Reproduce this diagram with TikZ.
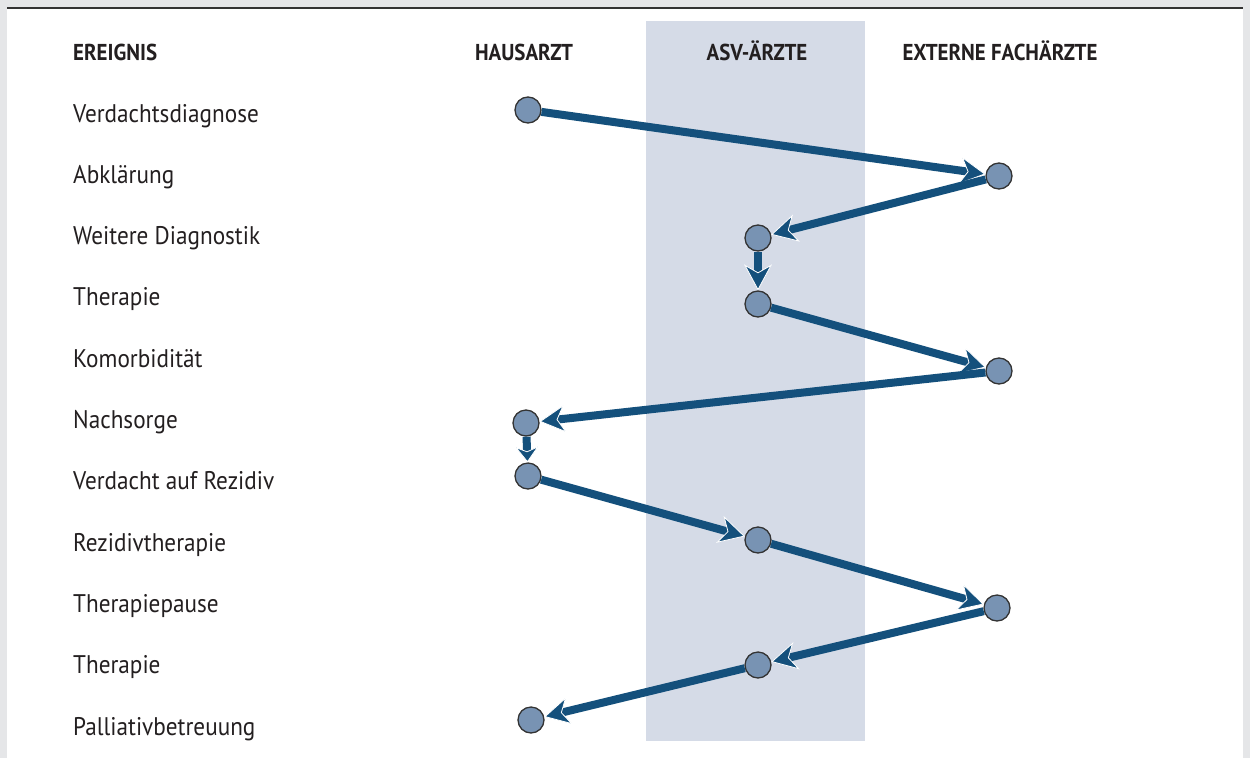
\documentclass[tikz,border=0pt]{standalone}
\usepackage{fontspec}
\setmainfont[FakeStretch=0.91]{PT Sans}
\usetikzlibrary{arrows.meta}
\definecolor{bandblue}{HTML}{D5DBE7}
\definecolor{dotblue}{HTML}{7893B3}
\definecolor{linkblue}{HTML}{14507C}
\definecolor{framegray}{HTML}{E5E6E8}
\definecolor{textblack}{HTML}{231F20}

\begin{document}
\begin{tikzpicture}[x=1pt,y=-1pt,
	event/.style={anchor=base west,inner sep=0pt,text=textblack,font=\fontsize{25.5}{30}\selectfont},
	head/.style={anchor=base,inner sep=0pt,text=textblack,font=\bfseries\fontsize{23}{28}\selectfont},
	dot/.style={draw=black!80,fill=dotblue,circle,minimum size=26pt,inner sep=0pt,line width=1.3pt},
	link/.style={draw=linkblue,line width=8pt,-{Stealth[color=white,fill=linkblue,length=26pt,width=28pt,inset=8pt,line width=0.8pt]}},
	shortlink/.style={draw=linkblue,line width=8pt,-{Stealth[color=white,fill=linkblue,length=16pt,width=24pt,inset=5pt,line width=0.8pt]}}]
	\useasboundingbox (0,0) rectangle (1250,758);
	% frame and column band
	\fill[framegray] (0,0) rectangle (1250,758);
	\fill[white] (7,8) rectangle (1243,758);
	\draw[black!80,line width=1.5pt] (7,8) -- (1243,8);
	\fill[bandblue] (646,21) rectangle (865,741);
	% headings
	\node[head,anchor=base west] (H0) at (73,60) {EREIGNIS};
	\node[head] (H1) at (524,60) {HAUSARZT};
	\node[head] (H2) at (757,60) {ASV-ÄRZTE};
	\node[head] (H3) at (1000,60) {EXTERNE FACHÄRZTE};
	% events
	\node[event] (E1) at (73,122) {Verdachtsdiagnose};
	\node[event] (E2) at (73,183.3) {Abklärung};
	\node[event] (E3) at (73,244.6) {Weitere Diagnostik};
	\node[event] (E4) at (73,305.9) {Therapie};
	\node[event] (E5) at (73,367.2) {Komorbidität};
	\node[event] (E6) at (73,428.5) {Nachsorge};
	\node[event] (E7) at (73,489.8) {Verdacht auf Rezidiv};
	\node[event] (E8) at (73,551.1) {Rezidivtherapie};
	\node[event] (E9) at (73,612.4) {Therapiepause};
	\node[event] (E10) at (73,673.7) {Therapie};
	\node[event] (E11) at (73,735) {Palliativbetreuung};
	% path of the patient
	\node[dot] (A) at (528,110) {};
	\node[dot] (B) at (999,176) {};
	\node[dot] (C) at (758,238) {};
	\node[dot] (D) at (758,304) {};
	\node[dot] (E) at (999,371) {};
	\node[dot] (F) at (526,423) {};
	\node[dot] (G) at (528,476) {};
	\node[dot] (H) at (758,540) {};
	\node[dot] (I) at (997,608) {};
	\node[dot] (J) at (758,665) {};
	\node[dot] (K) at (531,720) {};
	\draw[link] (A) -- (B);
	\draw[link] (B) -- (C);
	\draw[link] (C) -- (D);
	\draw[link] (D) -- (E);
	\draw[link] (E) -- (F);
	\draw[shortlink] (F) -- (G);
	\draw[link] (G) -- (H);
	\draw[link] (H) -- (I);
	\draw[link] (I) -- (J);
	\draw[link] (J) -- (K);
\end{tikzpicture}
\end{document}
